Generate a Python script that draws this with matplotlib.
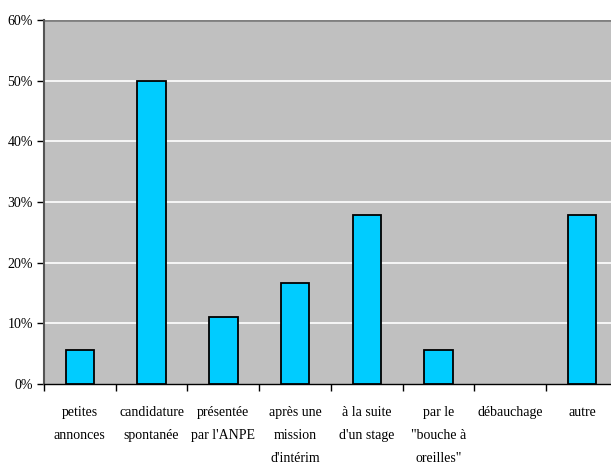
import matplotlib
import matplotlib.pyplot as plt
import numpy as np
matplotlib.use("Agg")

# ============================================================
# Data
# ============================================================
categories = ["petites\nannonces", "candidature\nspontanée", "présentée\npar l'ANPE",
              "après une\nmission\nd'intérim", "à la suite\nd'un stage",
              "par le\n\"bouche à\noreilles\"", "débauchage", "autre"]
values = [5.56, 50.0, 11.1, 16.7, 27.8, 5.56, 0.0, 27.8]
yticks = [0, 10, 20, 30, 40, 50, 60]
ytick_labels = ["0%", "10%", "20%", "30%", "40%", "50%", "60%"]

plt.rcParams["font.family"] = ["Liberation Serif", "DejaVu Serif"]

# ============================================================
# Plot
# ============================================================
fig = plt.figure(figsize=(6.11, 4.66), dpi=100)
# axes runs a bit past the right edge, like the original export
ax = fig.add_axes([44 / 611, 1 - 384 / 466, 574 / 611, 364 / 466])
ax.set_facecolor("#C0C0C0")

x = np.arange(len(categories))
# empty categories get no outline
lws = [1.3 if v > 0 else 0 for v in values]
ax.bar(x, values, width=0.4, color="#00CCFF", edgecolor="black", linewidth=lws, zorder=3)

ax.set_xlim(-0.5, len(categories) - 0.5)
ax.set_ylim(0, 60)
for y in yticks[1:-1]:
    ax.axhline(y, color="white", lw=1.2, zorder=1)
ax.axhline(60, color="#808080", lw=2, zorder=2)

ax.set_yticks(yticks)
ax.set_yticklabels(ytick_labels, fontsize=10)
ax.set_xticks(np.arange(len(categories) + 1) - 0.5)
ax.set_xticklabels([])
ax.set_xticks(x, minor=True)
ax.set_xticklabels(categories, minor=True, fontsize=10, linespacing=2.0, va="top")
ax.tick_params(axis="x", which="minor", length=0, pad=16)
ax.tick_params(axis="x", which="major", length=5, width=1, direction="out")
ax.tick_params(axis="y", length=5, width=1, direction="out", pad=3)

for s in ["top", "right"]:
    ax.spines[s].set_visible(False)
ax.spines["left"].set_color("#555555")
ax.spines["left"].set_linewidth(1.5)
ax.spines["bottom"].set_color("black")
ax.spines["bottom"].set_linewidth(1)

plt.savefig("out.png", dpi=100)
